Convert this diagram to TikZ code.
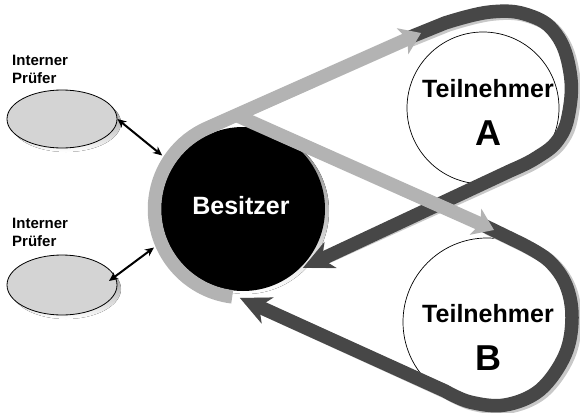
\documentclass[tikz,border=0pt]{standalone}
\usepackage{fontspec}
\setmainfont{Liberation Sans}
\usetikzlibrary{shapes.geometric,arrows.meta,calc}

\definecolor{beltdark}{HTML}{474747}
\definecolor{beltlight}{HTML}{B3B3B3}
\definecolor{shade}{HTML}{C8C8C8}
\definecolor{prueferfill}{HTML}{D4D4D4}

% centre lines of the two return belts (participant side)
\newcommand\trackA{(408,38) -- plot[smooth,tension=.7] coordinates {(445,23) (490,12) (528,15) (556,34) (570,72) (569,112) (558,140) (536,158) (512,170)} -- (retA)}
\newcommand\trackB{(485,226) -- plot[smooth,tension=.6] coordinates {(520,243) (548,260) (566,285) (572,318) (565,355) (540,390) (505,405) (470,402) (445,391)} -- (retB)}

\begin{document}
\begin{tikzpicture}[x=1pt,y=-1pt,
  darkbelt/.style={draw=beltdark, line width=13.5pt},
  lightbelt/.style={draw=beltlight, line width=13.5pt},
  beltshadow/.style={draw=shade, line width=13.5pt},
  darktip/.style={-{Stealth[length=30pt,width=28pt,inset=9pt]}},
  lighttip/.style={-{Stealth[length=20pt,width=28pt,inset=5pt]}},
  pruefer/.style={ellipse, draw=black, line width=0.8pt, fill=prueferfill,
    minimum width=110pt, minimum height=58pt, inner sep=0pt},
  teiln/.style={circle, draw=black, line width=0.7pt, fill=white, inner sep=0pt},
  besitzer/.style={circle, fill=black, minimum size=164pt, inner sep=0pt},
  linktwo/.style={{Stealth[length=9pt,width=8pt]}-{Stealth[length=9pt,width=8pt]}, line width=2pt},
  prueflabel/.style={font=\fontsize{15}{18.5}\selectfont\bfseries, align=left,
    anchor=north west, inner sep=0pt},
  tlabel/.style={font=\fontsize{25}{48}\selectfont\bfseries, align=center,
    anchor=north, inner sep=0pt},
]
\useasboundingbox (0,0) rectangle (580,412);

% internal auditors
\fill[shade] (66,123) ellipse[x radius=55, y radius=29];
\node[pruefer] (p1) at (62,119) {};
\fill[shade] (66,289) ellipse[x radius=55, y radius=30];
\node[pruefer, minimum height=60pt] (p2) at (62,285) {};
\node[prueflabel] (l1) at (12,54.5) {Interner\\Prüfer};
\node[prueflabel] (l2) at (12,217.5) {Interner\\Prüfer};

% participants
\node[teiln, minimum size=152pt] (A) at (483,108) {};
\node[teiln, minimum size=168pt] (B) at (487,322) {};
\node[tlabel] (tA) at (488,79) {Teilnehmer\\{\fontsize{36}{48}\selectfont A}};
\node[tlabel] (tB) at (488,304) {Teilnehmer\\{\fontsize{36}{48}\selectfont B}};

% owner
\fill[shade] (246,211) circle[radius=83];
\node[besitzer] (bes) at (243,209) {};
\node[font=\fontsize{25}{30}\selectfont\bfseries, text=white, inner sep=0pt] (bt) at (241,206) {Besitzer};

% auditor links
\coordinate (e1) at ($(bes)+(213.5:97)$);
\coordinate (e2) at ($(bes)+(156.6:97)$);
\coordinate (s2) at ($(p2.center)+(47,-4)$);
\draw[linktwo] (p1.east) -- (e1);
\draw[linktwo] (s2) -- (e2);

% belt ends
\coordinate (retA) at ($(bes)+(44.5:84)$);
\coordinate (retB) at ($(bes)+(92:89)$);
\coordinate (tipA) at (421,33);
\coordinate (tipB) at (494,230);

% return belts with their shadows
\draw[beltshadow, darktip, shift={(3,2)}] \trackA;
\draw[beltshadow, darktip, shift={(3,2)}] \trackB;
\draw[darkbelt, darktip] \trackA;
\draw[darkbelt, darktip] \trackB;

% outgoing belts around the owner
\draw[lightbelt, lighttip] ($(bes)+(97:88.5)$) arc[start angle=97, end angle=246.7, radius=88.5] -- (tipA);
\draw[lightbelt, lighttip] (238,116) -- (tipB);
\end{tikzpicture}
\end{document}
